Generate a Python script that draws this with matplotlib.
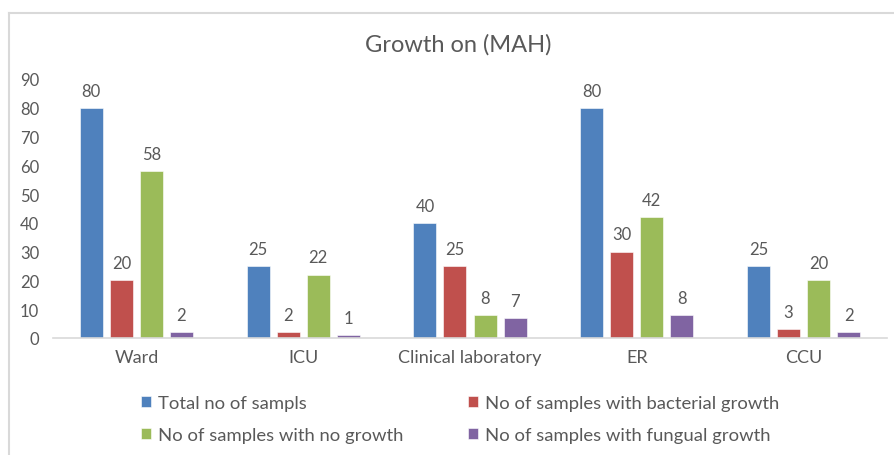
import matplotlib.pyplot as plt
import numpy as np
from matplotlib.lines import Line2D

plt.rcParams['font.family'] = ['Lato', 'DejaVu Sans']

# data
categories = ["Ward", "ICU", "Clinical laboratory", "ER", "CCU"]
series_names = ["Total no of sampls", "No of samples with bacterial growth",
                "No of samples with no growth", "No of samples with fungual growth"]
total = [80, 25, 40, 80, 25]
bacterial = [20, 2, 25, 30, 3]
no_growth = [58, 22, 8, 42, 20]
fungal = [2, 1, 7, 8, 2]
colors = ["#4F81BD", "#C0504D", "#9BBB59", "#8064A2"]

txt = "#595959"

fig = plt.figure(figsize=(8.94, 4.56), dpi=100)
ax = fig.add_axes([53/894, 117/456, 834/894, 259/456])

x = np.arange(len(categories))
step = 0.18
width = 0.138
handles = []
for i, vals in enumerate([total, bacterial, no_growth, fungal]):
    pos = x + (i - 1.5) * step
    bars = ax.bar(pos, vals, width, color=colors[i], label=series_names[i],
                  edgecolor="white", linewidth=0.4)
    handles.append(bars)
    for p, v in zip(pos, vals):
        ax.text(p, v + 3.2, str(v), ha="center", va="bottom", fontsize=12, color=txt)

ax.set_xlim(-0.5, 4.5)
ax.set_ylim(0, 90)
ax.set_yticks(range(0, 91, 10))
ax.set_xticks(x)
ax.set_xticklabels(categories, fontsize=13)
ax.tick_params(axis="both", length=0, colors=txt)
ax.tick_params(axis="y", pad=10, labelsize=12)
ax.tick_params(axis="x", pad=8)
for s in ["top", "right", "left"]:
    ax.spines[s].set_visible(False)
ax.spines["bottom"].set_color("#d9d9d9")
ax.spines["bottom"].set_linewidth(1.2)

fig.text(458/894, 1 - 45/456, "Growth on (MAH)", ha="center", va="center",
         fontsize=17, color=txt)

# legend filled row-wise like the original
order = [0, 2, 1, 3]
fig.legend([handles[k] for k in order], [series_names[k] for k in order],
           loc="center", bbox_to_anchor=(460/894, 1 - 420/456), ncol=2,
           frameon=False, fontsize=13.3, labelcolor=txt, handlelength=0.55,
           handleheight=0.55, handletextpad=0.35, columnspacing=3.5,
           labelspacing=0.9)

# chart border (left and top only visible)
fig.add_artist(Line2D([8.5/894, 8.5/894], [0, 1 - 13.5/456], transform=fig.transFigure,
                      color="#d9d9d9", linewidth=1.5))
fig.add_artist(Line2D([8.5/894, 893/894], [1 - 13.5/456, 1 - 13.5/456],
                      transform=fig.transFigure, color="#d9d9d9", linewidth=1.5))

fig.savefig("out.png", dpi=100)
